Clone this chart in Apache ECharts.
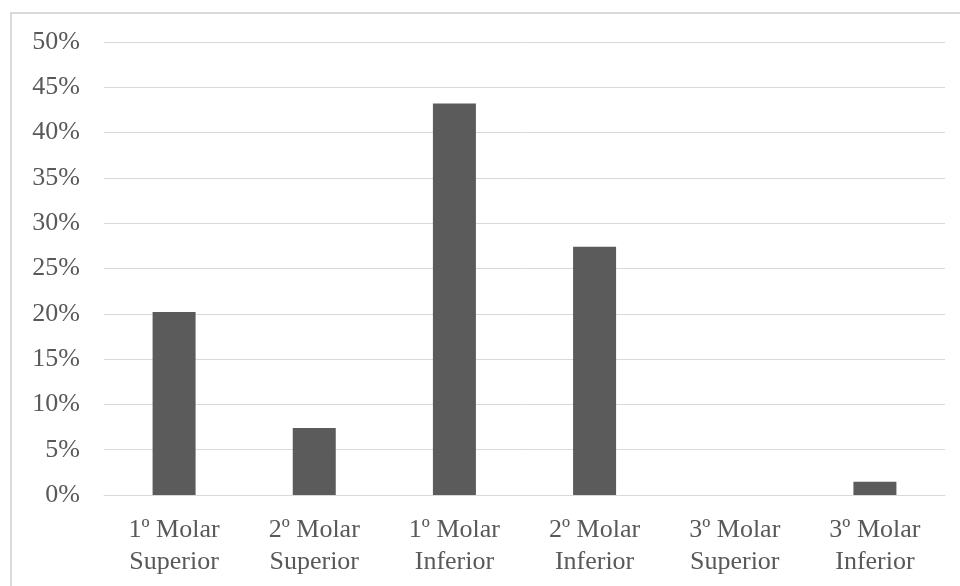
<!DOCTYPE html>
<html>
<head>
<meta charset="utf-8">
<script src="https://cdn.jsdelivr.net/npm/echarts@6/dist/echarts.min.js"></script>
<style>
html,body{margin:0;padding:0;background:#fff;}
#c{width:960px;height:586px;}
</style>
</head>
<body>
<div id="c"></div>
<script>
const categories = ['1º Molar\nSuperior','2º Molar\nSuperior','1º Molar\nInferior','2º Molar\nInferior','3º Molar\nSuperior','3º Molar\nInferior'];
const values = [20.2, 7.4, 43.2, 27.4, 0, 1.45];
const yTicks = [0,5,10,15,20,25,30,35,40,45,50];

const chart = echarts.init(document.getElementById('c'));
chart.setOption({
  animation:false,
  graphic:[{type:'rect',shape:{x:11,y:13,width:1200,height:1200},style:{fill:'none',stroke:'#d9d9d9',lineWidth:2},silent:true}],
  grid:{left:104,right:15,top:42,bottom:91,containLabel:false},
  xAxis:{
    type:'category',data:categories,
    axisLine:{show:true,lineStyle:{color:'#d9d9d9',width:1}},
    axisTick:{show:false},
    axisLabel:{color:'#595959',fontFamily:'Liberation Serif',fontSize:26,lineHeight:32,margin:19,interval:0}
  },
  yAxis:{
    type:'value',min:0,max:50,interval:5,
    axisLine:{show:false},axisTick:{show:false},
    splitLine:{lineStyle:{color:'#d9d9d9',width:1}},
    axisLabel:{color:'#595959',fontFamily:'Liberation Serif',fontSize:26,margin:24,formatter:v=>v+'%'}
  },
  series:[{type:'bar',data:values,barWidth:43,itemStyle:{color:'#5b5b5b'}}]
});
</script>
</body>
</html>
